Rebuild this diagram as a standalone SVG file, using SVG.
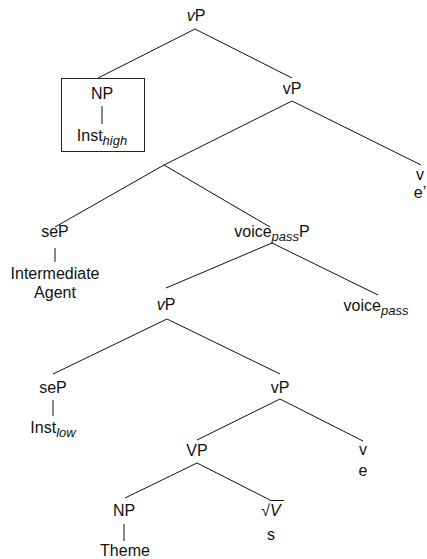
<svg xmlns="http://www.w3.org/2000/svg" width="427" height="559" viewBox="0 0 427 559">
  <style>
    text { font-family: "Liberation Sans", Arial, sans-serif; font-size: 16px; fill: #111; text-anchor: middle; }
    .it { font-style: italic; }
    .sub { font-style: italic; font-size: 13px; }
    .edge { stroke: #111; stroke-width: 1; fill: none; }
    .box { stroke: #222; stroke-width: 1; fill: none; }
  </style>
  <rect width="427" height="559" fill="#fff"/>

  <!-- tree branches -->
  <g id="connectors">
    <line class="edge" x1="195" y1="29" x2="98" y2="78"/>
    <line class="edge" x1="195" y1="29" x2="292" y2="78"/>
    <line class="edge" x1="102" y1="106" x2="102" y2="124"/>
    <line class="edge" x1="292" y1="101" x2="164" y2="165"/>
    <line class="edge" x1="292" y1="101" x2="421" y2="165"/>
    <line class="edge" x1="164" y1="165" x2="55" y2="227"/>
    <line class="edge" x1="164" y1="165" x2="270" y2="227"/>
    <line class="edge" x1="55" y1="248" x2="55" y2="262"/>
    <line class="edge" x1="272" y1="243" x2="166" y2="288"/>
    <line class="edge" x1="272" y1="243" x2="378" y2="295"/>
    <line class="edge" x1="167" y1="319" x2="53" y2="374"/>
    <line class="edge" x1="167" y1="319" x2="280" y2="374"/>
    <line class="edge" x1="53" y1="400" x2="53" y2="416"/>
    <line class="edge" x1="280" y1="399" x2="197" y2="440"/>
    <line class="edge" x1="280" y1="399" x2="363" y2="441"/>
    <line class="edge" x1="197" y1="463" x2="125" y2="498"/>
    <line class="edge" x1="197" y1="463" x2="270" y2="500"/>
    <line class="edge" x1="124" y1="524" x2="124" y2="541"/>
  </g>

  <g id="root-vP">
    <text x="196" y="21"><tspan class="it">v</tspan>P</text>
  </g>

  <g id="np-inst-high">
    <rect class="box" x="61.5" y="78.5" width="83" height="73"/>
    <text x="102" y="99">NP</text>
    <text x="102" y="141">Inst<tspan class="sub" dy="4">high</tspan></text>
  </g>

  <g id="vP-upper">
    <text x="292" y="94">vP</text>
  </g>

  <g id="v-e-prime">
    <text x="420" y="180">v</text>
    <text x="420" y="198">e’</text>
  </g>

  <g id="seP-agent">
    <text x="55" y="237">seP</text>
    <text x="55" y="279">Intermediate</text>
    <text x="55" y="298">Agent</text>
  </g>

  <g id="voicepassP">
    <text x="272" y="237">voice<tspan class="sub" dy="4">pass</tspan><tspan dy="-4">P</tspan></text>
  </g>

  <g id="vP-italic">
    <text x="166" y="310"><tspan class="it">v</tspan>P</text>
  </g>

  <g id="voice-pass">
    <text x="376" y="311">voice<tspan class="sub" dy="4">pass</tspan></text>
  </g>

  <g id="seP-inst-low">
    <text x="53" y="393">seP</text>
    <text x="53" y="433">Inst<tspan class="sub" dy="4">low</tspan></text>
  </g>

  <g id="vP-lower">
    <text x="280" y="393">vP</text>
  </g>

  <g id="v-e">
    <text x="363" y="455">v</text>
    <text x="363" y="476">e</text>
  </g>

  <g id="VP">
    <text x="197" y="456">VP</text>
  </g>

  <g id="np-theme">
    <text x="124" y="516">NP</text>
    <text x="125" y="556">Theme</text>
  </g>

  <g id="root-V">
    <text x="271" y="516">√<tspan class="it">V</tspan></text>
    <line class="edge" x1="270" y1="500.5" x2="284" y2="500.5"/>
    <text x="271" y="540">s</text>
  </g>
</svg>
